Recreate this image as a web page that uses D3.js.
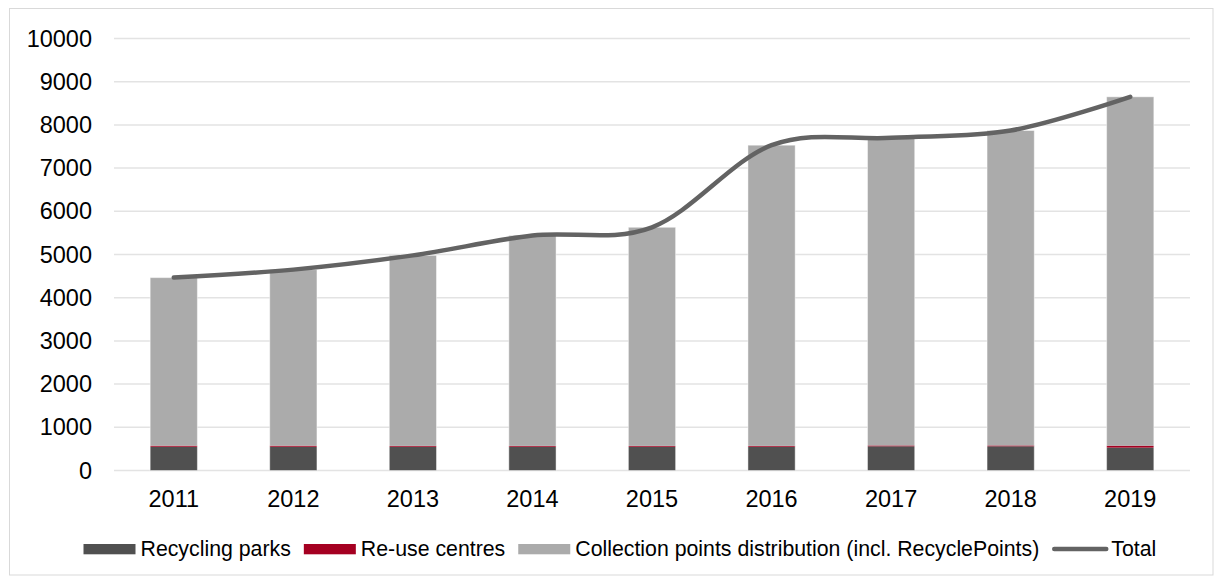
<!DOCTYPE html>
<html><head><meta charset="utf-8">
<script src="https://cdn.jsdelivr.net/npm/d3@7"></script>
<style>
html,body{margin:0;padding:0;background:#fff;}
svg{display:block;font-family:"Liberation Sans",Arial,sans-serif;}
</style></head>
<body>
<svg id="chart" width="1214" height="576"></svg>
<script>
const years = ["2011","2012","2013","2014","2015","2016","2017","2018","2019"];
const recyclingParks = [550, 550, 550, 550, 550, 550, 560, 560, 530];
const reuseCentres = [25, 25, 20, 20, 20, 20, 20, 20, 45];
const totals = [4465, 4650, 4980, 5440, 5630, 7530, 7700, 7870, 8650];
const collectionPoints = totals.map((t,i)=>t-recyclingParks[i]-reuseCentres[i]);
const yTicks = [0,1000,2000,3000,4000,5000,6000,7000,8000,9000,10000];
const seriesNames = ["Recycling parks","Re-use centres","Collection points distribution (incl. RecyclePoints)","Total"];
const colors = ["#505050","#a50021","#ababab","#636363"];

const svg = d3.select("#chart");
const W = 1214, H = 576;
svg.append("rect").attr("x",9.5).attr("y",8.5).attr("width",W-10.5).attr("height",H-9.5)
  .attr("fill","#fff").attr("stroke","#d9d9d9").attr("stroke-width",1);

const x = d3.scaleBand().domain(years).range([114,1190]).padding(0);
const y = d3.scaleLinear().domain([0,10000]).range([470.5,38.5]);
const barW = x.bandwidth()*0.395;

// gridlines
svg.append("g").selectAll("line").data(yTicks).join("line")
  .attr("x1",114).attr("x2",1190)
  .attr("y1",d=>y(d)).attr("y2",d=>y(d))
  .attr("stroke","#e3e3e3").attr("stroke-width",1.5);

// y axis labels
const yAxis = d3.axisLeft(y).tickValues(yTicks).tickSize(0).tickPadding(0).tickFormat(d3.format("d"));
const ya = svg.append("g").attr("transform","translate(92,0)").call(yAxis);
ya.select(".domain").remove();
ya.selectAll("text").attr("font-size",23.5).attr("fill","#000").attr("font-family","Liberation Sans, Arial, sans-serif");

// stacked bars
const stackData = years.map((yr,i)=>({year:yr, rp:recyclingParks[i], ru:reuseCentres[i], cp:collectionPoints[i]}));
const stack = d3.stack().keys(["rp","ru","cp"])(stackData);
const keysColor = {rp:colors[0], ru:colors[1], cp:colors[2]};
svg.append("g").selectAll("g").data(stack).join("g")
  .attr("fill",s=>keysColor[s.key])
  .selectAll("rect").data(s=>s).join("rect")
  .attr("x",d=>x(d.data.year)+x.bandwidth()/2-barW/2)
  .attr("width",barW)
  .attr("y",d=>y(d[1]))
  .attr("height",d=>y(d[0])-y(d[1]));

// bar outline (light edge)
svg.append("g").selectAll("rect").data(stackData).join("rect")
  .attr("x",d=>x(d.year)+x.bandwidth()/2-barW/2)
  .attr("width",barW)
  .attr("y",d=>y(d.rp+d.ru+d.cp))
  .attr("height",d=>y(0)-y(d.rp+d.ru+d.cp))
  .attr("fill","none").attr("stroke","#ffffff").attr("stroke-opacity",0.45).attr("stroke-width",1);

// total line
const line = d3.line().x((d,i)=>x(years[i])+x.bandwidth()/2).y(d=>y(d)).curve(d3.curveCatmullRom.alpha(0));
svg.append("path").datum(totals).attr("d",line)
  .attr("fill","none").attr("stroke",colors[3]).attr("stroke-width",4.5).attr("stroke-linecap","round");

// x axis labels
const xAxis = d3.axisBottom(x).tickSize(0).tickPadding(0);
const xa = svg.append("g").attr("transform","translate(0,490)").call(xAxis);
xa.select(".domain").remove();
xa.selectAll("text").attr("font-size",23.5).attr("fill","#000").attr("dy","0.71em").attr("font-family","Liberation Sans, Arial, sans-serif");

// legend
const lg = svg.append("g");
let lx = 83.5;
seriesNames.forEach((name,i)=>{
  const isLine = i===3;
  const sw = isLine ? 56 : 52;
  if(isLine){
    lg.append("line").attr("x1",lx+2).attr("x2",lx+sw-2).attr("y1",549).attr("y2",549)
      .attr("stroke",colors[i]).attr("stroke-width",4.5).attr("stroke-linecap","round");
  } else {
    lg.append("rect").attr("x",lx).attr("y",544).attr("width",sw).attr("height",10.3).attr("fill",colors[i]);
  }
  const t = lg.append("text").attr("x",lx+sw+(isLine?3:5)).attr("y",556)
    .attr("font-size",21.3).attr("fill","#000").text(name);
  lx = lx+sw+(isLine?3:5)+t.node().getComputedTextLength()+13;
});
</script>
</body></html>
